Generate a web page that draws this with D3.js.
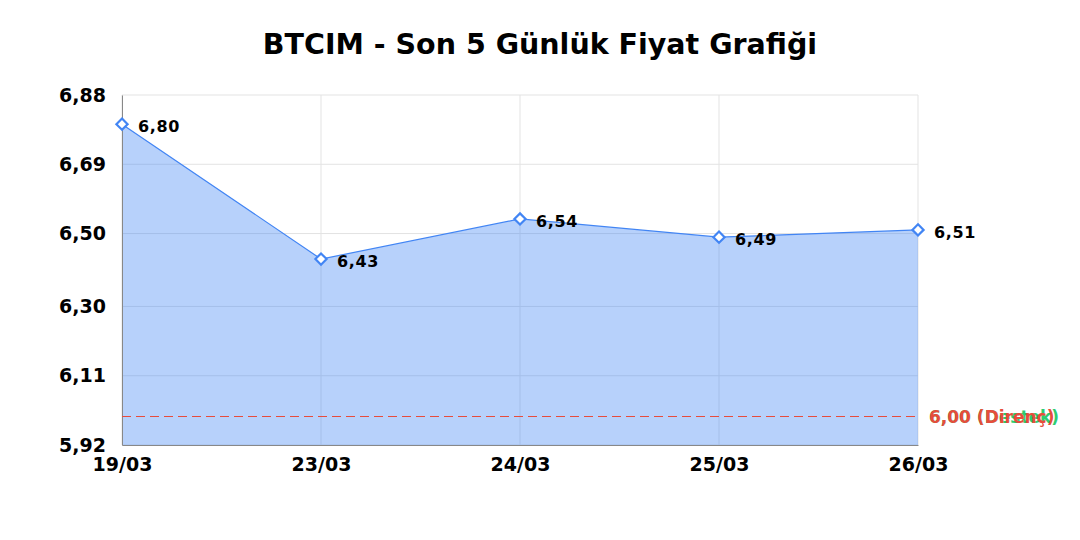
<!DOCTYPE html>
<html>
<head>
<meta charset="utf-8">
<script src="https://cdn.jsdelivr.net/npm/d3@7"></script>
<style>
  body { margin: 0; background: #fff; }
  svg { display: block; font-family: "DejaVu Sans", sans-serif; }
  .grid-line { stroke: #e3e3e3; stroke-width: 1; }
  .axis-line { stroke: #888; stroke-width: 1; }
  .tick-text { font-family: "DejaVu Sans", sans-serif; font-size: 19px; font-weight: bold; fill: #000; }
  .point-label { font-size: 16px; font-weight: bold; fill: #000; letter-spacing: 0.6px; }
</style>
</head>
<body>
<svg id="chart" width="1080" height="540"></svg>
<script>
// ── DATA ──────────────────────────────────────────────────────────────────
const dates = ["19/03", "23/03", "24/03", "25/03", "26/03"];
const prices = [6.80, 6.43, 6.54, 6.49, 6.51];
const yTicks = [5.92, 6.11, 6.30, 6.50, 6.69, 6.88];
const levels = [
  { value: 6.00, label: "Destek", color: "#2ecc71" },
  { value: 6.00, label: "Direnç", color: "#e74c3c" },
];

const fmt = (v) => v.toFixed(2).replace(".", ",");

const svg = d3.select("#chart");
const width = 1080, height = 540;
const margin = { top: 95, right: 162, bottom: 95, left: 122 };
const innerWidth = width - margin.left - margin.right;
const innerHeight = height - margin.top - margin.bottom;

// scales
const xScale = d3.scalePoint().domain(dates).range([0, innerWidth]);
const yScale = d3.scaleLinear().domain([5.92, 6.88]).range([innerHeight, 0]);

// title
svg.append("text")
  .attr("x", width / 2)
  .attr("y", 54)
  .attr("text-anchor", "middle")
  .attr("font-size", 28.5)
  .attr("font-weight", "bold")
  .attr("fill", "#000")
  .text("BTCIM - Son 5 Günlük Fiyat Grafiği");

const group = svg.append("g")
  .attr("transform", `translate(${margin.left},${margin.top})`);

// grid lines
group.append("g")
  .selectAll("line")
  .data(yTicks)
  .join("line")
  .attr("class", "grid-line")
  .attr("x1", 0)
  .attr("x2", innerWidth)
  .attr("y1", (d) => yScale(d))
  .attr("y2", (d) => yScale(d));
group.append("g")
  .selectAll("line")
  .data(dates)
  .join("line")
  .attr("class", "grid-line")
  .attr("x1", (d) => xScale(d))
  .attr("x2", (d) => xScale(d))
  .attr("y1", 0)
  .attr("y2", innerHeight);

// area + line
const pts = dates.map((d, i) => [d, prices[i]]);
group.append("path")
  .datum(pts)
  .attr("fill", "rgba(66,133,244,0.38)")
  .attr("d", d3.area()
    .x((p) => xScale(p[0]))
    .y0(innerHeight)
    .y1((p) => yScale(p[1])));
group.append("path")
  .datum(pts)
  .attr("fill", "none")
  .attr("stroke", "#4285f4")
  .attr("stroke-width", 1.2)
  .attr("d", d3.line()
    .x((p) => xScale(p[0]))
    .y((p) => yScale(p[1])));

// axes
const yAxis = group.append("g")
  .call(d3.axisLeft(yScale).tickValues(yTicks).tickFormat(fmt).tickSize(0).tickPadding(16));
yAxis.select(".domain").attr("class", "axis-line");
yAxis.selectAll("text").attr("class", "tick-text");

const xAxis = group.append("g")
  .attr("transform", `translate(0,${innerHeight})`)
  .call(d3.axisBottom(xScale).tickSize(0).tickPadding(13));
xAxis.select(".domain").attr("class", "axis-line");
xAxis.selectAll("text").attr("class", "tick-text");

// support / resistance levels (resistance drawn last, on top)
levels.forEach((lv) => {
  group.append("line")
    .attr("x1", 0)
    .attr("x2", innerWidth)
    .attr("y1", Math.round(yScale(lv.value)) + 0.5)
    .attr("y2", Math.round(yScale(lv.value)) + 0.5)
    .attr("stroke", lv.color)
    .attr("stroke-width", 1.3)
    .attr("stroke-dasharray", "9 5")
    .attr("shape-rendering", "crispEdges");
  group.append("text")
    .attr("x", innerWidth + 11)
    .attr("y", yScale(lv.value) + 7)
    .attr("font-size", 17)
    .attr("font-weight", "bold")
    .attr("fill", lv.color)
    .text(`${fmt(lv.value)} (${lv.label})`);
});

// markers and value labels
group.append("g")
  .selectAll("path")
  .data(pts)
  .join("path")
  .attr("transform", (p) => `translate(${xScale(p[0])},${yScale(p[1])})`)
  .attr("d", d3.symbol(d3.symbolDiamond2, 80))
  .attr("fill", "#fff")
  .attr("stroke", "#4285f4")
  .attr("stroke-width", 2.2);
group.append("g")
  .selectAll("text")
  .data(pts)
  .join("text")
  .attr("class", "point-label")
  .attr("x", (p) => xScale(p[0]) + 16)
  .attr("y", (p) => yScale(p[1]) + 8)
  .text((p) => fmt(p[1]));
</script>
</body>
</html>
